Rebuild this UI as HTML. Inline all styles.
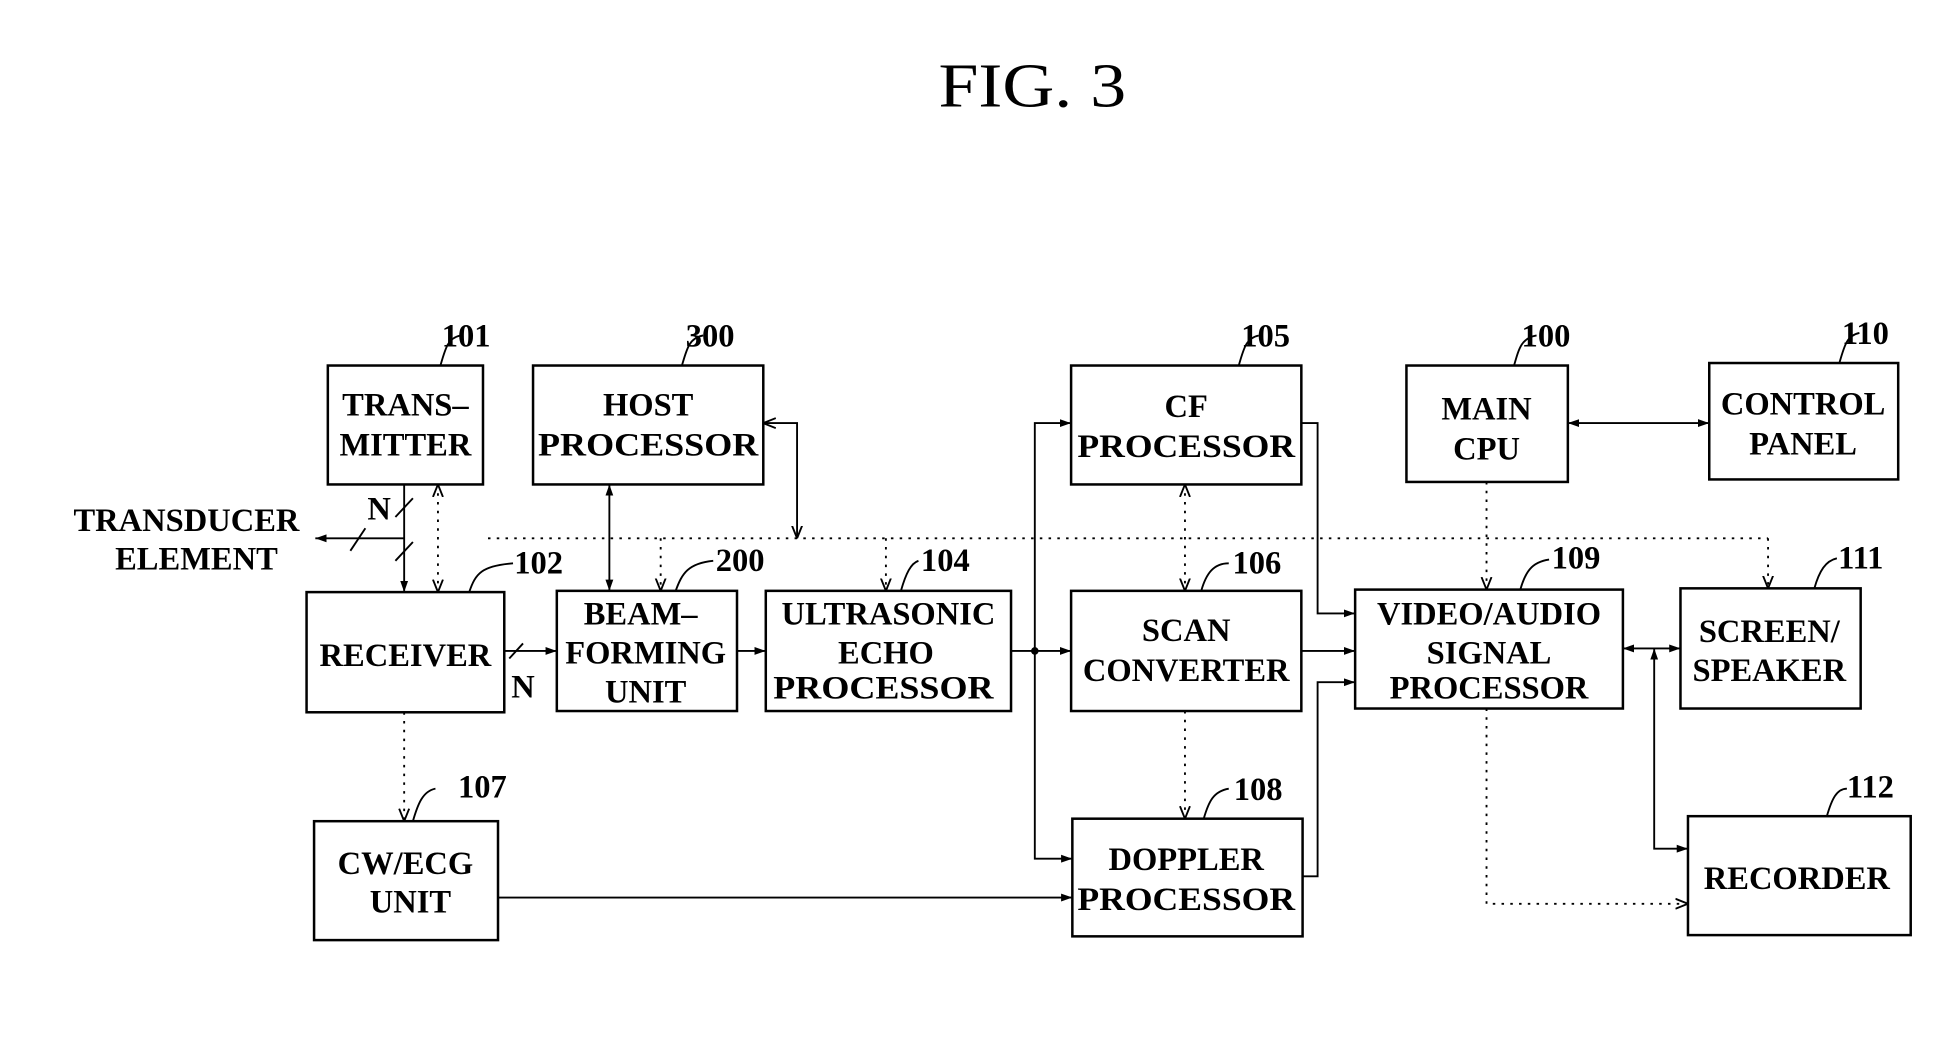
<!DOCTYPE html>
<html><head><meta charset="utf-8"><style>
html,body{margin:0;padding:0;background:#fff;}
svg{display:block;}
text{font-family:"Liberation Serif",serif;font-weight:bold;fill:#000;}
</style></head><body>
<svg width="1952" height="1039" viewBox="0 0 1560 830" preserveAspectRatio="none" xmlns="http://www.w3.org/2000/svg">
<defs>
<marker id="a" viewBox="0 0 10 10" refX="10" refY="5" markerWidth="9" markerHeight="9" orient="auto-start-reverse" markerUnits="userSpaceOnUse"><path d="M0,1.5 L10,5 L0,8.5 z" fill="#000"/></marker>
<marker id="o" viewBox="0 0 10 10" refX="10" refY="5" markerWidth="10" markerHeight="10" orient="auto-start-reverse" markerUnits="userSpaceOnUse"><path d="M0,1 L10,5 L0,9" fill="none" stroke="#000" stroke-width="1.5"/></marker>
</defs>
<text x="825" y="85" font-size="50" text-anchor="middle" style="font-weight:normal" textLength="150" lengthAdjust="spacingAndGlyphs">FIG. 3</text>
<g fill="none" stroke="#000" stroke-width="2">
<rect x="262" y="292" width="124" height="95"/>
<rect x="426" y="292" width="184" height="95"/>
<rect x="856" y="292" width="184" height="95"/>
<rect x="1124" y="292" width="129" height="93"/>
<rect x="1366" y="290" width="151" height="93"/>
<rect x="245" y="473" width="158" height="96"/>
<rect x="445" y="472" width="144" height="96"/>
<rect x="612" y="472" width="196" height="96"/>
<rect x="856" y="472" width="184" height="96"/>
<rect x="1083" y="471" width="214" height="95"/>
<rect x="1343" y="470" width="144" height="96"/>
<rect x="251" y="656" width="147" height="95"/>
<rect x="857" y="654" width="184" height="94"/>
<rect x="1349" y="652" width="178" height="95"/>
</g>
<g fill="none" stroke="#000" stroke-width="1.5">
<line x1="323" y1="430" x2="252" y2="430" marker-end="url(#a)"/>
<line x1="280" y1="440" x2="292" y2="422"/>
<line x1="323" y1="387" x2="323" y2="473" marker-end="url(#a)"/>
<line x1="316" y1="413" x2="330" y2="398"/>
<line x1="316" y1="448" x2="330" y2="433"/>
<line x1="487" y1="387" x2="487" y2="472" marker-start="url(#a)" marker-end="url(#a)"/>
<polyline points="610,338 637,338 637,430" marker-start="url(#o)" marker-end="url(#o)"/>
<line x1="403" y1="520" x2="445" y2="520" marker-end="url(#a)"/>
<line x1="407" y1="526" x2="418" y2="514"/>
<line x1="589" y1="520" x2="612" y2="520" marker-end="url(#a)"/>
<line x1="808" y1="520" x2="856" y2="520" marker-end="url(#a)"/>
<polyline points="856,338 827,338 827,686 857,686" marker-start="url(#a)" marker-end="url(#a)"/>
<polyline points="1040,338 1053,338 1053,490 1083,490" marker-end="url(#a)"/>
<line x1="1040" y1="520" x2="1083" y2="520" marker-end="url(#a)"/>
<polyline points="1041,700 1053,700 1053,545 1083,545" marker-end="url(#a)"/>
<line x1="398" y1="717" x2="857" y2="717" marker-end="url(#a)"/>
<line x1="1253" y1="338" x2="1366" y2="338" marker-start="url(#a)" marker-end="url(#a)"/>
<line x1="1297" y1="518" x2="1343" y2="518" marker-start="url(#a)" marker-end="url(#a)"/>
<polyline points="1322,518 1322,678 1349,678" marker-start="url(#a)" marker-end="url(#a)"/>
<g stroke-dasharray="2,5">
<line x1="390" y1="430" x2="1413" y2="430"/>
<line x1="1413" y1="430" x2="1413" y2="470" marker-end="url(#o)"/>
<line x1="350" y1="387" x2="350" y2="473" marker-start="url(#o)" marker-end="url(#o)"/>
<line x1="528" y1="430" x2="528" y2="472" marker-end="url(#o)"/>
<line x1="708" y1="430" x2="708" y2="472" marker-end="url(#o)"/>
<line x1="947" y1="387" x2="947" y2="472" marker-start="url(#o)" marker-end="url(#o)"/>
<line x1="947" y1="568" x2="947" y2="654" marker-end="url(#o)"/>
<line x1="1188" y1="385" x2="1188" y2="471" marker-end="url(#o)"/>
<polyline points="1188,566 1188,722 1349,722" marker-end="url(#o)"/>
<line x1="323" y1="569" x2="323" y2="656" marker-end="url(#o)"/>
</g>
<path d="M352,292 C356,278 358,270 368,268"/>
<path d="M545,292 C549,278 551,270 562,268"/>
<path d="M990,292 C994,278 996,270 1006,268"/>
<path d="M1210,292 C1214,278 1216,270 1228,268"/>
<path d="M1470,290 C1474,276 1476,268 1486,266"/>
<path d="M375,473 C380,458 385,452 410,450"/>
<path d="M540,472 C545,458 550,450 570,448"/>
<path d="M720,472 C724,458 728,450 734,448"/>
<path d="M960,472 C964,458 970,450 982,450"/>
<path d="M1215,471 C1219,457 1224,449 1238,447"/>
<path d="M1450,470 C1454,456 1459,448 1468,446"/>
<path d="M330,656 C334,642 338,632 348,630"/>
<path d="M962,654 C966,640 970,632 982,630"/>
<path d="M1460,652 C1464,638 1468,630 1476,630"/>
</g>
<circle cx="827" cy="520" r="3" fill="#000"/>
<g font-size="26" text-anchor="middle">
<text x="324" y="332">TRANS–</text><text x="324" y="364">MITTER</text>
<text x="518" y="332">HOST</text><text x="518" y="364" textLength="176" lengthAdjust="spacingAndGlyphs">PROCESSOR</text>
<text x="948" y="333">CF</text><text x="948" y="365" textLength="174" lengthAdjust="spacingAndGlyphs">PROCESSOR</text>
<text x="1188" y="335">MAIN</text><text x="1188" y="367">CPU</text>
<text x="1441" y="331">CONTROL</text><text x="1441" y="363">PANEL</text>
<text x="324" y="532">RECEIVER</text>
<text x="512" y="499">BEAM–</text><text x="516" y="530">FORMING</text><text x="516" y="561">UNIT</text>
<text x="710" y="499">ULTRASONIC</text><text x="708" y="530">ECHO</text><text x="706" y="558" textLength="176" lengthAdjust="spacingAndGlyphs">PROCESSOR</text>
<text x="948" y="512">SCAN</text><text x="948" y="544">CONVERTER</text>
<text x="1190" y="499">VIDEO/AUDIO</text><text x="1190" y="530">SIGNAL</text><text x="1190" y="558">PROCESSOR</text>
<text x="1414" y="513">SCREEN/</text><text x="1414" y="544">SPEAKER</text>
<text x="324" y="698">CW/ECG</text><text x="328" y="729">UNIT</text>
<text x="948" y="695">DOPPLER</text><text x="948" y="727" textLength="174" lengthAdjust="spacingAndGlyphs">PROCESSOR</text>
<text x="1436" y="710">RECORDER</text>
<text x="149" y="424">TRANSDUCER</text><text x="157" y="455">ELEMENT</text>
<text x="303" y="415">N</text><text x="418" y="557">N</text>
</g>
<g font-size="26" text-anchor="start">
<text x="353" y="277">101</text><text x="548" y="277">300</text><text x="992" y="277">105</text>
<text x="1216" y="277">100</text><text x="1472" y="275">110</text>
<text x="411" y="458">102</text><text x="572" y="456">200</text><text x="736" y="456">104</text>
<text x="985" y="458">106</text><text x="1240" y="454">109</text><text x="1469" y="454">111</text>
<text x="366" y="637">107</text><text x="986" y="639">108</text><text x="1476" y="637">112</text>
</g>
</svg>
</body></html>
